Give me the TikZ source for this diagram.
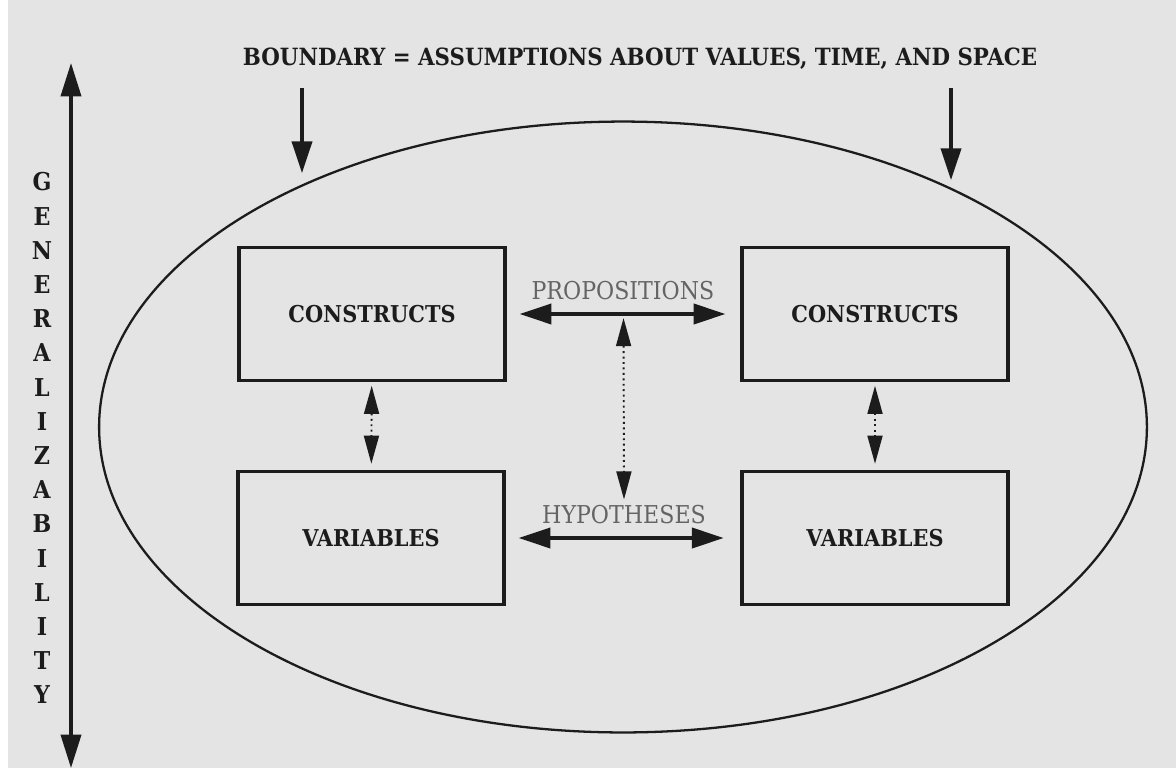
\documentclass[tikz,border=0pt]{standalone}
\usepackage{fontspec}
\setmainfont{DejaVu Serif Condensed}
\usetikzlibrary{arrows.meta}

\definecolor{paper}{RGB}{228,228,228}
\definecolor{ink}{RGB}{28,28,28}
\definecolor{lightink}{RGB}{100,100,100}

\begin{document}
\begin{tikzpicture}[x=0.02cm,y=-0.02cm,
  box/.style={draw=ink,line width=2pt,minimum width=5.32cm,minimum height=2.66cm,
    font=\fontsize{13.2}{15}\selectfont\bfseries,text=ink},
  tag/.style={font=\fontsize{14}{16}\selectfont,text=lightink},
  axisletter/.style={font=\fontsize{14}{16}\selectfont\bfseries,text=ink,inner sep=0pt},
  link/.style={draw=ink,line width=1.8pt,
    {Triangle[length=18pt,width=11.5pt]}-{Triangle[length=18pt,width=11.5pt]}},
  dotlink/.style={draw=ink,line width=1.1pt,dotted,
    {Triangle[length=16pt,width=8.5pt]}-{Triangle[length=16pt,width=8.5pt]}},
  pointer/.style={draw=ink,line width=1.8pt,-{Triangle[length=18pt,width=11.5pt]}}]
  % \draw (0,0) grid[step=100] (1176,768);

  \useasboundingbox (0,0) rectangle (1176,768);
  \fill[white] (0,0) rectangle (1176,768);
  \fill[paper] (8,0) rectangle (1176,768);

  % boundary
  \draw[ink,line width=1.3pt] (623,427) ellipse [x radius=10.48cm, y radius=6.11cm];
  \node[font=\fontsize{13.5}{15}\selectfont\bfseries,text=ink] (bound) at (640,59)
    {BOUNDARY = ASSUMPTIONS ABOUT VALUES, TIME, AND SPACE};
  \coordinate (lfrom) at (302,88);
  \coordinate (lhit)  at (302,173);
  \coordinate (rfrom) at (951,88);
  \coordinate (rhit)  at (951,180);
  \draw[pointer] (lfrom) -- (lhit);
  \draw[pointer] (rfrom) -- (rhit);

  % generalizability axis
  \coordinate (gtop) at (71,63);
  \coordinate (gbot) at (71,768);
  \draw[ink,line width=1.8pt,
    {Triangle[length=19pt,width=11.5pt]}-{Triangle[length=19pt,width=11.5pt]}] (gtop) -- (gbot);
  \foreach \l [count=\i from 0] in {G,E,N,E,R,A,L,I,Z,A,B,I,L,I,T,Y}
    \node[axisletter] (g\i) at (42,182+34.2*\i) {\l};

  % boxes
  \node[box] (conL) at (372,314) {CONSTRUCTS};
  \node[box] (conR) at (875,314) {CONSTRUCTS};
  \node[box] (varL) at (371,538) {VARIABLES};
  \node[box] (varR) at (875,538) {VARIABLES};

  % links
  \node[tag] (prop) at (623,291) {PROPOSITIONS};
  \node[tag] (hyp)  at (624,515) {HYPOTHESES};
  \draw[link,shorten <=7.4pt,shorten >=8.5pt] (conL) -- coordinate (pm) (conR);
  \draw[link,shorten <=7.4pt,shorten >=9.5pt] (varL) -- (varR);
  \draw[dotlink,shorten <=2.3pt] (pm) -- (hyp.north);
  \draw[dotlink,shorten <=2pt,shorten >=3.4pt] (conL) -- (varL);
  \draw[dotlink,shorten <=2pt,shorten >=3.4pt] (conR) -- (varR);
\end{tikzpicture}
\end{document}
